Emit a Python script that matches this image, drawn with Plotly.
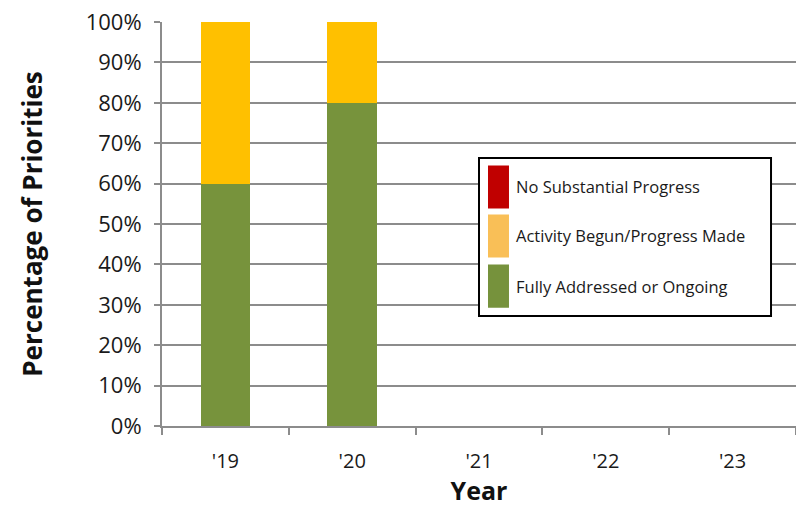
import plotly.graph_objects as go

# Status of priorities by year (percent of priorities)
years = ["'19", "'20", "'21", "'22", "'23"]
fully_addressed = [60, 80, None, None, None]
activity_begun = [40, 20, None, None, None]
no_progress = [0, 0, None, None, None]
y_ticks = list(range(0, 101, 10))
y_tick_labels = [f"{v}%" for v in y_ticks]

series_names = ["No Substantial Progress", "Activity Begun/Progress Made", "Fully Addressed or Ongoing"]
bar_colors = {"No Substantial Progress": "#C00000",
              "Activity Begun/Progress Made": "#FFC000",
              "Fully Addressed or Ongoing": "#77933C"}
key_colors = {"No Substantial Progress": "#C00000",
              "Activity Begun/Progress Made": "#F9BF57",
              "Fully Addressed or Ongoing": "#76923C"}

font_family = "Open Sans, Noto Sans, sans-serif"

fig = go.Figure()
for name, vals in [("Fully Addressed or Ongoing", fully_addressed),
                   ("Activity Begun/Progress Made", activity_begun),
                   ("No Substantial Progress", no_progress)]:
    fig.add_trace(go.Bar(
        x=years, y=vals, name=name,
        marker=dict(color=bar_colors[name], line=dict(width=0)),
        width=0.39, showlegend=False,
    ))

# Framed key drawn inside the plot area
x0, x1 = 0.50, 0.9606
y_top, y_bot = 0.6634, 0.2723
fig.add_shape(type="rect", xref="paper", yref="paper", x0=x0, x1=x1, y0=y_bot, y1=y_top,
              line=dict(color="black", width=2), fillcolor="white", layer="above")
swatch_h = 0.107
centers = [0.5916, 0.4703, 0.3465]
for name, yc in zip(series_names, centers):
    fig.add_shape(type="rect", xref="paper", yref="paper",
                  x0=0.5142, x1=0.5473, y0=yc - swatch_h / 2, y1=yc + swatch_h / 2,
                  line=dict(width=0), fillcolor=key_colors[name], layer="above")
    fig.add_annotation(xref="paper", yref="paper", x=0.5552, y=yc, text=name,
                       showarrow=False, xanchor="left", yanchor="middle",
                       font=dict(family=font_family, size=16.5, color="#1a1a1a"))

fig.update_layout(
    width=796, height=507,
    margin=dict(l=162, r=0, t=22, b=81),
    barmode="stack",
    plot_bgcolor="white", paper_bgcolor="white",
    font=dict(family=font_family, color="#1a1a1a"),
    xaxis=dict(
        type="category", categoryorder="array", categoryarray=years,
        range=[-0.5, 4.5],
        showline=True, linecolor="#8c8c8c", linewidth=2,
        ticks="outside", tickson="boundaries", ticklen=7, tickwidth=2, tickcolor="#8c8c8c",
        tickfont=dict(size=20, color="#1a1a1a"), ticklabelstandoff=16,
        showgrid=False,
        title=dict(text="<b>Year</b>", font=dict(size=25, color="#111"), standoff=12),
    ),
    yaxis=dict(
        range=[0, 100], tickmode="array", tickvals=y_ticks, ticktext=y_tick_labels,
        showline=True, linecolor="#8c8c8c", linewidth=2,
        ticks="outside", ticklen=6, tickwidth=2, tickcolor="#8c8c8c",
        tickfont=dict(size=22, color="#1a1a1a"), ticklabelstandoff=8,
        showgrid=True, gridcolor="#8c8c8c", gridwidth=2,
        zeroline=False,
        title=dict(text="<b>Percentage of Priorities</b>", font=dict(size=26, color="#111"), standoff=36),
    ),
)

fig.write_html("out.html")
